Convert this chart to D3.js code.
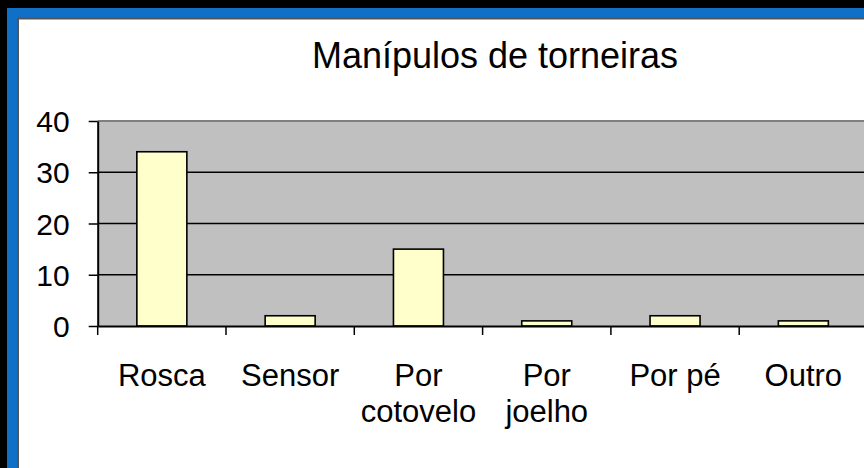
<!DOCTYPE html>
<html>
<head>
<meta charset="utf-8">
<script src="https://cdn.jsdelivr.net/npm/d3@7"></script>
<style>
  html, body { margin: 0; padding: 0; background: #000; }
  svg { display: block; }
  text { font-family: "Liberation Sans", Arial, sans-serif; fill: #000; }
</style>
</head>
<body>
<svg id="chart" width="864" height="468"></svg>
<script>
const title = "Manípulos de torneiras";
const categories = ["Rosca", "Sensor", "Por cotovelo", "Por joelho", "Por pé", "Outro"];
const categoryLines = [["Rosca"], ["Sensor"], ["Por", "cotovelo"], ["Por", "joelho"], ["Por pé"], ["Outro"]];
const values = [34, 2, 15, 1, 2, 1];
const yTicks = [0, 10, 20, 30, 40];

const svg = d3.select("#chart");

// frame: black, blue border, white panel
svg.append("rect").attr("x", 0).attr("y", 0).attr("width", 864).attr("height", 468).attr("fill", "#000");
svg.append("rect").attr("x", 7).attr("y", 8).attr("width", 857).attr("height", 460).attr("fill", "#1070C8");
svg.append("rect").attr("x", 17).attr("y", 17.5).attr("width", 847).attr("height", 450.5).attr("fill", "#555");
svg.append("rect").attr("x", 19).attr("y", 19.5).attr("width", 845).attr("height", 448.5).attr("fill", "#fff");

const plot = {left: 97.7, right: 867.5, top: 121, bottom: 326};

const x = d3.scaleBand().domain(categories).range([plot.left, plot.right]).paddingInner(0).paddingOuter(0);
const y = d3.scaleLinear().domain([0, 40]).range([plot.bottom, plot.top]);

// plot area
svg.append("rect")
  .attr("x", plot.left).attr("y", y(40))
  .attr("width", plot.right - plot.left).attr("height", y(0) - y(40))
  .attr("fill", "#C0C0C0");
svg.append("line")
  .attr("x1", plot.left).attr("x2", plot.right)
  .attr("y1", y(40)).attr("y2", y(40))
  .attr("stroke", "#808080").attr("stroke-width", 2);

// gridlines
svg.append("g").selectAll("line")
  .data(yTicks.filter(t => t > 0 && t < 40))
  .join("line")
  .attr("x1", plot.left).attr("x2", plot.right)
  .attr("y1", d => y(d)).attr("y2", d => y(d))
  .attr("stroke", "#000").attr("stroke-width", 1.5);

// bars
const barW = 50;
svg.append("g").selectAll("rect")
  .data(values)
  .join("rect")
  .attr("x", (d, i) => x(categories[i]) + x.bandwidth() / 2 - barW / 2)
  .attr("y", d => y(d))
  .attr("width", barW)
  .attr("height", d => y(0) - y(d))
  .attr("fill", "#FFFFCC")
  .attr("stroke", "#000")
  .attr("stroke-width", 1.6);

// y axis
const yAxis = svg.append("g").attr("transform", `translate(${plot.left},0)`)
  .call(d3.axisLeft(y).tickValues(yTicks).tickSize(9).tickPadding(19).tickSizeOuter(0));
yAxis.select(".domain").attr("stroke", "#000").attr("stroke-width", 2);
yAxis.selectAll(".tick line").attr("stroke", "#000").attr("stroke-width", 1.5);
yAxis.selectAll(".tick text")
  .attr("font-size", 30).attr("font-family", "Liberation Sans, Arial, sans-serif")
  .attr("fill", "#000").attr("dy", "0.35em");

// x axis
const xAxis = svg.append("g").attr("transform", `translate(0,${plot.bottom})`)
  .call(d3.axisBottom(x).tickSize(0).tickFormat(""));
xAxis.select(".domain").attr("stroke", "#000").attr("stroke-width", 2);
xAxis.selectAll(".tick").remove();

// x tick marks at band boundaries
const boundaries = categories.map(c => x(c)).concat([x(categories[categories.length - 1]) + x.bandwidth()]);
svg.append("g").selectAll("line")
  .data(boundaries)
  .join("line")
  .attr("x1", d => d).attr("x2", d => d)
  .attr("y1", plot.bottom).attr("y2", plot.bottom + 9)
  .attr("stroke", "#000").attr("stroke-width", 1.5);

// category labels
const labels = svg.append("g").selectAll("text")
  .data(categoryLines)
  .join("text")
  .attr("x", (d, i) => x(categories[i]) + x.bandwidth() / 2)
  .attr("y", 386)
  .attr("text-anchor", "middle")
  .attr("font-size", 31);
labels.selectAll("tspan")
  .data(d => d)
  .join("tspan")
  .attr("x", function() { return d3.select(this.parentNode).attr("x"); })
  .attr("dy", (d, i) => i === 0 ? 0 : 35.5)
  .text(d => d);

// title
svg.append("text")
  .attr("x", 495).attr("y", 68)
  .attr("text-anchor", "middle")
  .attr("font-size", 36)
  .text(title);
</script>
</body>
</html>
